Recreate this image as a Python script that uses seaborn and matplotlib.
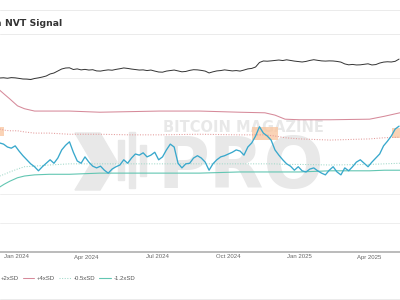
import pandas as pd
import matplotlib.pyplot as plt
import matplotlib.dates as mdates
from matplotlib.lines import Line2D
from matplotlib.patches import Polygon, Rectangle
import seaborn as sns

# ---- data ----
# NVT signal, one value every 5 days from 2023-12-11
nvt_signal = [1.88, 1.86, 1.81, 1.79, 1.83, 1.74, 1.66, 1.59, 1.52, 1.47,
              1.40, 1.47, 1.53, 1.59, 1.53, 1.62, 1.76, 1.84, 1.90, 1.72,
              1.57, 1.53, 1.64, 1.55, 1.48, 1.45, 1.48, 1.41, 1.36, 1.43,
              1.47, 1.50, 1.59, 1.53, 1.62, 1.69, 1.67, 1.71, 1.64, 1.67,
              1.72, 1.59, 1.64, 1.76, 1.86, 1.81, 1.53, 1.45, 1.52, 1.53,
              1.62, 1.66, 1.62, 1.55, 1.41, 1.52, 1.59, 1.64, 1.66, 1.69,
              1.72, 1.76, 1.74, 1.67, 1.81, 1.88, 2.00, 2.16, 2.05, 2.00,
              1.93, 1.76, 1.67, 1.59, 1.52, 1.48, 1.41, 1.47, 1.40, 1.38,
              1.43, 1.45, 1.40, 1.36, 1.33, 1.41, 1.47, 1.38, 1.33, 1.45,
              1.40, 1.47, 1.55, 1.59, 1.53, 1.47, 1.55, 1.62, 1.69, 1.83,
              1.91, 2.00, 2.12, 2.17]

# BTC price (USD), same 5-day steps
btc_price = [42000, 42500, 41500, 42800, 42300, 41200, 40000, 39800, 39000, 41000,
             42300, 44000, 46200, 50900, 53400, 58800, 64700, 67800, 68500, 63100,
             65000, 62000, 63500, 61500, 62500, 59000, 58500, 60500, 62000, 61000,
             63500, 65500, 68000, 66500, 64500, 63000, 61500, 62000, 60000, 61500,
             58500, 56000, 55500, 58500, 60000, 61500, 59000, 56500, 57500, 60500,
             62500, 62000, 60500, 58500, 53500, 56500, 59000, 60000, 62000, 60500,
             59000, 60000, 58500, 61500, 65000, 66500, 71200, 88400, 95000, 94000,
             95500, 97500, 99500, 97000, 100500, 97500, 94500, 92500, 90500, 93000,
             97500, 101000, 98000, 95500, 94500, 95500, 95000, 93000, 90000, 82500,
             79000, 80500, 78500, 79000, 81000, 83000, 78500, 80000, 86000, 90000,
             91500, 90500, 93500, 104000]

# standard deviation bands
band_dates = ['2023-12-11', '2023-12-17', '2023-12-24', '2024-01-03', '2024-01-12',
              '2024-01-25', '2024-02-13', '2024-03-10', '2024-04-18', '2024-05-27',
              '2024-07-04', '2024-08-25', '2024-10-15', '2024-11-17', '2024-11-30',
              '2024-12-13', '2025-01-01', '2025-02-09', '2025-04-01', '2025-04-20',
              '2025-05-10']
plus_4sd = [2.79, 2.72, 2.64, 2.52, 2.47, 2.43, 2.43, 2.43, 2.41, 2.42, 2.43,
            2.43, 2.41, 2.40, 2.36, 2.29, 2.28, 2.28, 2.29, 2.34, 2.40]
plus_2sd = [2.12, 2.10, 2.09, 2.09, 2.07, 2.05, 2.05, 2.03, 2.03, 2.02, 2.02,
            2.03, 2.02, 2.02, 2.00, 1.97, 1.95, 1.93, 1.95, 1.97, 1.98]
minus_05sd = [1.31, 1.34, 1.38, 1.43, 1.47, 1.48, 1.50, 1.52, 1.52, 1.52, 1.52,
              1.52, 1.52, 1.52, 1.52, 1.51, 1.51, 1.50, 1.51, 1.52, 1.53]
minus_12sd = [1.12, 1.17, 1.22, 1.28, 1.31, 1.33, 1.34, 1.34, 1.36, 1.36, 1.36,
              1.36, 1.38, 1.38, 1.38, 1.38, 1.38, 1.40, 1.40, 1.41, 1.41]

# highlighted "overheated" zones
zone_start = ['2023-12-05', '2024-11-01', '2025-04-30']
zone_end = ['2023-12-17', '2024-12-04', '2025-05-15']
zone_low = [2.00, 1.93, 1.97]
zone_high = [2.16, 2.16, 2.14]

grid_levels = [0.5, 1.0, 3.0]

# ---- styling ----
sns.set_style('white')
plt.rcParams['font.family'] = ['Liberation Sans', 'DejaVu Sans']

W, H = 400, 300
fig = plt.figure(figsize=(4, 3), dpi=100)
ax = fig.add_axes([0, 48 / H, 1, 212 / H])

nvt_dates = pd.date_range('2023-12-11', periods=len(nvt_signal), freq='5D')
price_dates = pd.date_range('2023-12-11', periods=len(btc_price), freq='5D')
bands = pd.DataFrame({'date': pd.to_datetime(band_dates), '+4xSD': plus_4sd,
                      '+2xSD': plus_2sd, '-0.5xSD': minus_05sd, '-1.2xSD': minus_12sd})

# zones
for s, e, lo, hi in zip(zone_start, zone_end, zone_low, zone_high):
    xs = pd.to_datetime([s, e])
    ax.fill_between(xs, [lo, lo], [hi, hi], color='#f9c8a4', alpha=0.8, lw=0, zorder=1)

# bands
sns.lineplot(data=bands, x='date', y='+4xSD', ax=ax, color='#d68a9a', lw=0.75, label='+4xSD')
sns.lineplot(data=bands, x='date', y='+2xSD', ax=ax, color='#e39a9a', lw=0.75,
             linestyle=(0, (1, 1.5)), label='+2xSD')
sns.lineplot(data=bands, x='date', y='-0.5xSD', ax=ax, color='#9fd8c8', lw=0.75,
             linestyle=(0, (1, 1.5)), label='-0.5xSD')
sns.lineplot(data=bands, x='date', y='-1.2xSD', ax=ax, color='#62c6b2', lw=0.8, label='-1.2xSD')

# NVT signal
sns.lineplot(x=nvt_dates, y=nvt_signal, ax=ax, color='#38a8cc', lw=0.95, zorder=4)

handles, labels = ax.get_legend_handles_labels()
if ax.get_legend():
    ax.get_legend().remove()

ax.set_xlim(pd.Timestamp('2023-12-11 10:00'), pd.Timestamp('2025-05-10 05:00'))
ax.set_ylim(0, 212 / 58)
ax.set_yticks(grid_levels)
ax.grid(axis='y', color='#ebebeb', lw=0.6)
ax.set_axisbelow(True)
ax.tick_params(axis='y', length=0, labelleft=False)
ax.xaxis.set_major_locator(mdates.MonthLocator(bymonth=[1, 4, 7, 10]))
ax.xaxis.set_major_formatter(mdates.DateFormatter('%b %Y'))
ax.tick_params(axis='x', length=0, pad=1.8, labelsize=4.3, labelcolor='#666666')
for side in ['top', 'left', 'right']:
    ax.spines[side].set_visible(False)
ax.spines['bottom'].set_color('#a8a8a8')
ax.spines['bottom'].set_linewidth(1.1)
ax.set_xlabel('')
ax.set_ylabel('')

# price on its own log axis
ax2 = ax.twinx()
sns.lineplot(x=price_dates, y=btc_price, ax=ax2, color='#333333', lw=0.7)
ax2.set_yscale('log')
ax2.set_ylim(9.96, 259900)
ax2.axis('off')

# watermark
wm = '#e8e8e8'
ax.text(163 / W, 1 - 127 / H, 'BITCOIN MAGAZINE', transform=fig.transFigure,
        fontsize=10.5, fontweight='bold', color=wm, family='DejaVu Sans',
        ha='left', va='center', zorder=0.3)
ax.text(158 / W, 1 - 168 / H, 'PRO', transform=fig.transFigure,
        fontsize=51, fontweight='bold', color=wm, family='DejaVu Sans',
        ha='left', va='center', zorder=0.3)
logo = [[(75, 133), (100, 133), (117, 162), (100, 190), (75, 190), (92, 162)]]
for poly in logo:
    ax.add_patch(Polygon([(x / W, 1 - y / H) for x, y in poly], closed=True,
                         transform=fig.transFigure, color=wm, zorder=0.3))
for x0, top, bot in [(118, 140, 180), (129, 132, 188), (140, 145, 176)]:
    ax.add_patch(Rectangle((x0 / W, 1 - bot / H), 6 / W, (bot - top) / H,
                           transform=fig.transFigure, color=wm, zorder=0.3))

# title box
for y in [10, 34, 299]:
    fig.add_artist(Line2D([0, 1], [1 - y / H] * 2, color='#ebebeb', lw=0.7))
fig.text(1.6 / W, 1 - 24 / H, 'Bitcoin', ha='right', va='center', fontsize=6.7,
         fontweight='bold', color='#333333', family='DejaVu Sans')
fig.text(5 / W, 1 - 24 / H, 'NVT Signal', ha='left', va='center', fontsize=6.7,
         fontweight='bold', color='#333333', family='DejaVu Sans')

# legend
order = ['+2xSD', '+4xSD', '-0.5xSD', '-1.2xSD']
lookup = dict(zip(labels, handles))
fig.legend([lookup[k] for k in order], order, ncol=4, loc='center left',
           bbox_to_anchor=(-14 / W, 22 / H), frameon=False, fontsize=4.3,
           labelcolor='#555555', handlelength=1.9, handletextpad=0.5,
           columnspacing=0.7, borderpad=0, borderaxespad=0)

fig.savefig('out.png', dpi=100)
